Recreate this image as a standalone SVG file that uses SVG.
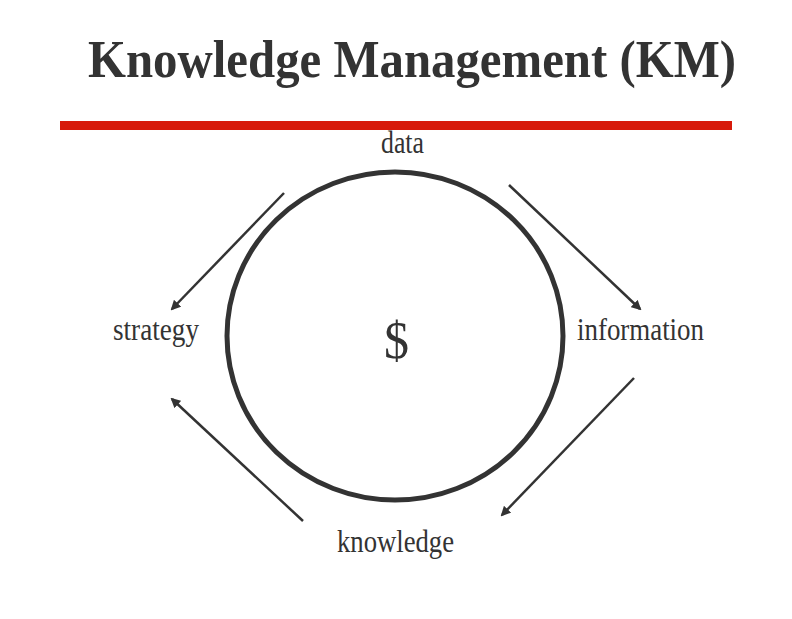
<svg xmlns="http://www.w3.org/2000/svg" width="792" height="619" viewBox="0 0 792 619">
<defs>
<style>
.t{font-family:"Liberation Serif","Times New Roman",serif;fill:#333333}
.lbl{font-size:31px}
.c{stroke:#333333;stroke-width:2.5;fill:none;marker-end:url(#ah)}
</style>
<marker id="ah" viewBox="0 0 10 10" refX="8" refY="5" markerWidth="4" markerHeight="4" orient="auto" markerUnits="strokeWidth">
<path d="M0,0 L10,5 L0,10 z" fill="#333333"/>
</marker>
</defs>
<rect width="792" height="619" fill="#ffffff"/>
<g id="title">
<text class="t" x="88" y="77" font-size="52" font-weight="bold" textLength="648" lengthAdjust="spacingAndGlyphs">Knowledge Management (KM)</text>
<rect x="60" y="121" width="672" height="9" fill="#d71a0b"/>
</g>
<g id="cycle">
<ellipse cx="395" cy="336" rx="168" ry="164" fill="none" stroke="#333333" stroke-width="5"/>
<text class="t" x="384" y="358" font-size="52" textLength="25" lengthAdjust="spacingAndGlyphs">$</text>
</g>
<g id="data"><text class="t lbl" x="381" y="153" textLength="43" lengthAdjust="spacingAndGlyphs">data</text></g>
<g id="information"><text class="t lbl" x="577" y="340" textLength="127" lengthAdjust="spacingAndGlyphs">information</text></g>
<g id="knowledge"><text class="t lbl" x="337" y="552" textLength="117" lengthAdjust="spacingAndGlyphs">knowledge</text></g>
<g id="strategy"><text class="t lbl" x="113" y="340" textLength="86" lengthAdjust="spacingAndGlyphs">strategy</text></g>
<g id="connectors">
<line class="c" x1="509" y1="185" x2="640" y2="309"/>
<line class="c" x1="634" y1="378" x2="502" y2="515"/>
<line class="c" x1="303" y1="521" x2="172" y2="399"/>
<line class="c" x1="284" y1="193" x2="172" y2="309"/>
</g>
</svg>
